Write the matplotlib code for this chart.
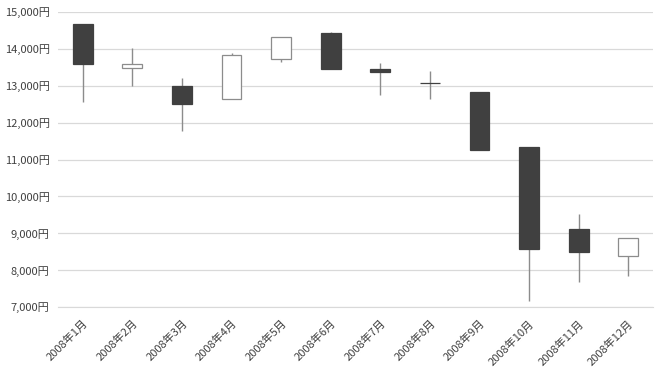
import numpy as np
import matplotlib
matplotlib.use('Agg')
import matplotlib.pyplot as plt
from matplotlib.ticker import FuncFormatter, MultipleLocator

plt.rcParams['font.family'] = ['Noto Sans CJK JP', 'DejaVu Sans']

# %% Data (monthly OHLC, yen)
months = ['2008年1月', '2008年2月', '2008年3月', '2008年4月', '2008年5月', '2008年6月',
          '2008年7月', '2008年8月', '2008年9月', '2008年10月', '2008年11月', '2008年12月']
opens  = [14680, 13480, 12980, 12640, 13735, 14420, 13450, 13078, 12830, 11350, 9110, 8395]
highs  = [14680, 14025, 13210, 13880, 14315, 14458, 13625, 13410, 12830, 11350, 9518, 8862]
lows   = [12565, 12995, 11780, 12640, 13640, 13465, 12740, 12650, 11250, 7150, 7690, 7845]
closes = [13590, 13600, 12510, 13825, 14315, 13465, 13375, 13068, 11250, 8570, 8505, 8862]

# %% Plot
fig = plt.figure(figsize=(6.6, 3.71), dpi=100)
ax = fig.add_axes([58/660, 1-307/371, 595/660, 295/371])

x = np.arange(len(months))
o = np.array(opens); c = np.array(closes)
up = c >= o

ax.vlines(x, lows, highs, color='#8c8c8c', lw=1, zorder=2)
bottoms = np.minimum(o, c)
heights = np.maximum(np.abs(c - o), 8)
facecols = np.where(up, 'white', '#404040')
ax.bar(x, heights, bottom=bottoms, width=0.4, color=facecols,
       edgecolor=np.where(up, '#8c8c8c', '#404040'), lw=0.9, zorder=3)

ax.set_xlim(-0.5, 11.5)
ax.set_ylim(7000, 15000)
ax.yaxis.set_major_locator(MultipleLocator(1000))
ax.yaxis.set_major_formatter(FuncFormatter(lambda v, p: f'{int(v):,}円'))
ax.grid(axis='y', color='#d9d9d9', lw=0.9)
ax.set_axisbelow(True)
for s in ['top', 'right', 'left']:
    ax.spines[s].set_visible(False)
ax.spines['bottom'].set_color('#d9d9d9')

ax.set_xticks(x)
ax.set_xticklabels(months, rotation=45, ha='right', rotation_mode='anchor')
ax.tick_params(axis='both', length=0, labelsize=8, colors='#404040', pad=6)
ax.tick_params(axis='x', pad=8)

fig.savefig('out.png', dpi=100)
